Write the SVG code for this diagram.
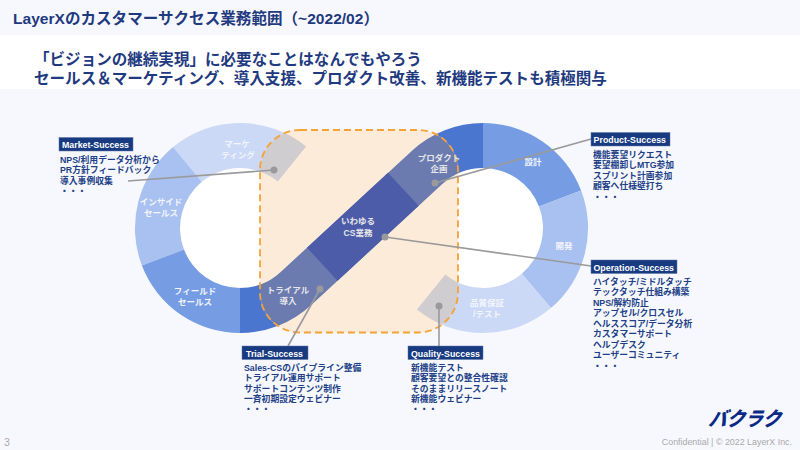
<svg xmlns="http://www.w3.org/2000/svg" width="800" height="450" viewBox="0 0 800 450">
<style>
text{font-family:"Liberation Sans","Noto Sans CJK JP",sans-serif}
.seg{font-size:8.5px;font-weight:700;fill:#f2f5fd;text-anchor:middle}
.segd{font-size:8.5px;font-weight:700;fill:#e6e6ea;text-anchor:middle}
.tag{fill:#173a80;stroke:#5c76a8;stroke-width:.5}
.tagt{font-size:8.800px;font-weight:700;fill:#fff}
.li{font-size:8.800px;font-weight:700;fill:#213f86}
.conn{stroke:#9a9a9a;stroke-width:1.600;fill:none}
.dot{fill:#9a9a9a}
.c1{fill:#ccd9f6}.c2{fill:#a9c1f0}.c3{fill:#769de4}.c4{fill:#4a76d0}
</style>
<defs>
<clipPath id="boxclip"><rect x="260" y="130" width="198" height="202.500" rx="40"/></clipPath>
<path id="band" d="M240,333A105,105 0 0 0 311.300,305.100L442.300,184A60,60 0 0 1 483,168L483,123A105,105 0 0 0 411.700,150.900L280.700,272A60,60 0 0 1 240,288Z"/>
<path id="mk" d="M173.100,147.100A105,105 0 0 1 306.100,146.400L277.800,181.400A60,60 0 0 0 201.800,181.800Z"/>
<path id="qa" d="M550.900,308.100A105,105 0 0 1 416.900,309.600L445.300,274.600A60,60 0 0 0 521.800,273.800Z"/>
</defs>
<rect width="800" height="450" fill="#f7f8fe"/>
<rect y="35" width="800" height="54" fill="#fff"/>
<text x="13" y="24" font-size="15.500" font-weight="700" fill="#1f3a7f" textLength="366" lengthAdjust="spacingAndGlyphs">LayerXのカスタマーサクセス業務範囲（~2022/02）</text>
<text x="34" y="65" font-size="15.550" font-weight="700" fill="#1f3a7f">「ビジョンの継続実現」に必要なことはなんでもやろう</text>
<text x="34" y="84" font-size="15.550" font-weight="700" fill="#1f3a7f">セールス＆マーケティング、導入支援、プロダクト改善、新機能テストも積極関与</text>

<g id="rings">
<circle cx="240" cy="228" r="62" fill="#fff"/>
<circle cx="483" cy="228" r="62" fill="#fff"/>
<use href="#mk" class="c1"/>
<path class="c2" d="M141.900,265.600A105,105 0 0 1 173.100,147.100L201.800,181.800A60,60 0 0 0 184,249.500Z"/>
<path class="c3" d="M240,333A105,105 0 0 1 141.900,265.600L184,249.500A60,60 0 0 0 240,288Z"/>
<path class="c3" d="M483,123A105,105 0 0 1 581.100,190.400L539,206.500A60,60 0 0 0 483,168Z"/>
<path class="c2" d="M581.100,190.400A105,105 0 0 1 550.900,308.100L521.800,273.800A60,60 0 0 0 539,206.500Z"/>
<use href="#qa" class="c1"/>
<use href="#band" class="c4"/>
</g>

<g id="cs-box">
<rect x="260" y="130" width="198" height="202.500" rx="40" fill="#fdebd9"/>
<g clip-path="url(#boxclip)">
<use href="#band" fill="#6b7bb0"/>
<polygon points="307,247.700 337.600,280.800 418.600,205.700 388,172.700" fill="#4c5ca8"/>
<use href="#mk" fill="#cfcdd0"/>
<use href="#qa" fill="#cfcdd0"/>
</g>
<rect x="260" y="130" width="198" height="202.500" rx="40" fill="none" stroke="#f5a236" stroke-width="1.800" stroke-dasharray="7 4"/>
</g>

<g id="segment-labels">
<text class="seg" x="237" y="147">マーケ</text><text class="seg" x="238" y="158">ティング</text>
<text class="seg" x="161" y="205">インサイド</text><text class="seg" x="161" y="216">セールス</text>
<text class="seg" x="195" y="294">フィールド</text><text class="seg" x="195" y="305">セールス</text>
<text class="segd" x="288" y="293">トライアル</text><text class="segd" x="288" y="304">導入</text>
<text class="segd" x="358" y="224">いわゆる</text><text class="segd" x="358" y="236">CS業務</text>
<text class="segd" x="439" y="161">プロダクト</text><text class="segd" x="439" y="172">企画</text>
<text class="seg" x="533" y="165">設計</text>
<text class="seg" x="564" y="249">開発</text>
<text class="seg" x="487" y="306">品質保証</text><text class="seg" x="487" y="317">/テスト</text>
</g>

<g id="connectors">
<line class="conn" x1="274" y1="170" x2="128" y2="181"/><circle class="dot" cx="274" cy="170" r="3.500"/>
<line class="conn" x1="320" y1="289" x2="288" y2="346"/><circle class="dot" cx="320" cy="289" r="3.500"/>
<line class="conn" x1="435" y1="183" x2="591" y2="139"/><circle class="dot" cx="435" cy="183" r="3.500"/>
<line class="conn" x1="385" y1="237" x2="591" y2="266"/><circle class="dot" cx="385" cy="237" r="3.500"/>
<line class="conn" x1="439" y1="306" x2="439" y2="346"/><circle class="dot" cx="439" cy="306" r="3.500"/>
</g>

<g id="market-success">
<rect class="tag" x="59" y="137.500" width="74" height="13.500"/>
<text class="tagt" x="62" y="148" textLength="67">Market-Success</text>
<text class="li" x="60" y="162.500">NPS/利用データ分析から</text>
<text class="li" x="60" y="173">PR方針フィードバック</text>
<text class="li" x="60" y="183.500">導入事例収集</text>
<text class="li" x="60" y="194">・・・</text>
</g>
<g id="product-success">
<rect class="tag" x="591" y="132.500" width="79" height="13.500"/>
<text class="tagt" x="593.500" y="143" textLength="72.500">Product-Success</text>
<text class="li" x="593" y="157.500">機能要望リクエスト</text>
<text class="li" x="593" y="168">要望棚卸しMTG参加</text>
<text class="li" x="593" y="178.500">スプリント計画参加</text>
<text class="li" x="593" y="189">顧客へ仕様壁打ち</text>
<text class="li" x="593" y="200">・・・</text>
</g>
<g id="operation-success">
<rect class="tag" x="591" y="260" width="86" height="13.500"/>
<text class="tagt" x="593.500" y="270.500" textLength="80.500">Operation-Success</text>
<text class="li" x="593" y="284.500">ハイタッチ/ミドルタッチ</text>
<text class="li" x="593" y="295">テックタッチ仕組み構築</text>
<text class="li" x="593" y="305.500">NPS/解約防止</text>
<text class="li" x="593" y="316">アップセル/クロスセル</text>
<text class="li" x="593" y="326.500">ヘルススコア/データ分析</text>
<text class="li" x="593" y="337">カスタマーサポート</text>
<text class="li" x="593" y="347.500">ヘルプデスク</text>
<text class="li" x="593" y="358">ユーザーコミュニティ</text>
<text class="li" x="593" y="369">・・・</text>
</g>
<g id="trial-success">
<rect class="tag" x="242" y="346" width="66" height="13.500"/>
<text class="tagt" x="246" y="356.500" textLength="57">Trial-Success</text>
<text class="li" x="244" y="370.500">Sales-CSのパイプライン整備</text>
<text class="li" x="244" y="381">トライアル運用サポート</text>
<text class="li" x="244" y="391.500">サポートコンテンツ制作</text>
<text class="li" x="244" y="402">一斉初期設定ウェビナー</text>
<text class="li" x="244" y="412">・・・</text>
</g>
<g id="quality-success">
<rect class="tag" x="408" y="346" width="75" height="13.500"/>
<text class="tagt" x="411" y="356.500" textLength="69">Quality-Success</text>
<text class="li" x="411" y="370.500">新機能テスト</text>
<text class="li" x="411" y="381">顧客要望との整合性確認</text>
<text class="li" x="411" y="391.500">そのままリリースノート</text>
<text class="li" x="411" y="402">新機能ウェビナー</text>
<text class="li" x="411" y="412">・・・</text>
</g>

<text x="4" y="446" font-size="10.500" fill="#a9a9a9">3</text>
<text x="792" y="445" font-size="8.900" fill="#a9a9a9" text-anchor="end">Confidential | © 2022 LayerX Inc.</text>
<text transform="translate(708,426) skewX(-20)" font-size="20" font-weight="900" fill="#0b2a86" style="font-family:'Noto Sans CJK JP',sans-serif" textLength="72" lengthAdjust="spacingAndGlyphs">バクラク</text>
</svg>
